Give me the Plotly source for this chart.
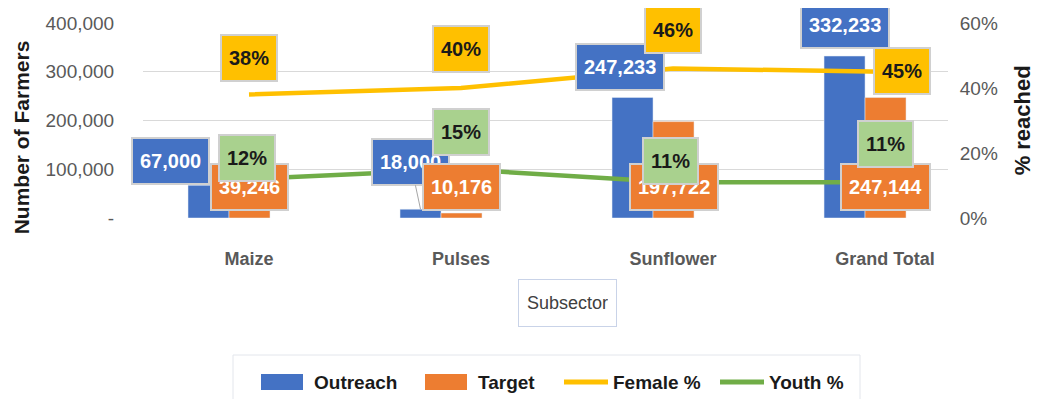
import plotly.graph_objects as go

categories = ["Maize", "Pulses", "Sunflower", "Grand Total"]
outreach = [67000, 18000, 247233, 332233]
target = [39246, 10176, 197722, 247144]
female_pct = [0.38, 0.40, 0.46, 0.45]
youth_pct = [0.12, 0.15, 0.11, 0.11]
left_ticks = [0, 100000, 200000, 300000, 400000]
left_ticktext = ["-", "100,000", "200,000", "300,000", "400,000"]
right_ticks = [0, 0.2, 0.4, 0.6]
right_ticktext = ["0%", "20%", "40%", "60%"]

BLUE = "#4472C4"
ORANGE = "#ED7D31"
YELLOW = "#FFC000"
GREEN = "#70AD47"
LGREEN = "#A9D18E"
FONT = "Liberation Sans, Arial, sans-serif"

xpos = list(range(len(categories)))
BAR_W = 0.1934
OFF_OUT = -0.2877
OFF_TGT = -0.0943

series = [
    ("Outreach", BLUE, "bar"),
    ("Target", ORANGE, "bar"),
    ("Female %", YELLOW, "line"),
    ("Youth %", GREEN, "line"),
]

fig = go.Figure()
fig.add_trace(go.Bar(x=xpos, y=outreach, name=series[0][0], marker_color=BLUE,
                     width=BAR_W, offset=OFF_OUT, yaxis="y", showlegend=False))
fig.add_trace(go.Bar(x=xpos, y=target, name=series[1][0], marker_color=ORANGE,
                     width=BAR_W, offset=OFF_TGT, yaxis="y", showlegend=False))
fig.add_trace(go.Scatter(x=xpos, y=female_pct, name=series[2][0], mode="lines",
                         line=dict(color=YELLOW, width=4.5), yaxis="y2", showlegend=False))
fig.add_trace(go.Scatter(x=xpos, y=youth_pct, name=series[3][0], mode="lines",
                         line=dict(color=GREEN, width=4.5), yaxis="y2", showlegend=False))

annotations = []
shapes = []


def label(x, y, yref, text, bg, fc, xs, ys, arrow=False):
    a = dict(x=x, y=y, xref="x", yref=yref, text="<b>%s</b>" % text,
             bgcolor=bg, bordercolor="#D0D0D0", borderwidth=2, borderpad=7,
             height=30, font=dict(family=FONT, size=20, color=fc))
    if arrow:
        a.update(showarrow=True, ax=xs, ay=-ys, arrowhead=0, arrowwidth=1,
                 arrowcolor="#A6A6A6", standoff=0)
    else:
        a.update(showarrow=False, xshift=xs, yshift=ys)
    annotations.append(a)


bar_c_out = OFF_OUT + BAR_W / 2
bar_c_tgt = OFF_TGT + BAR_W / 2
out_shift = [(-38, 24), (-10, 47), (-13, 30), (0, 31)]
for i, v in enumerate(outreach):
    label(i + bar_c_out, v, "y", f"{v:,}", BLUE, "white",
          out_shift[i][0], out_shift[i][1], arrow=(i == 1))
for i, v in enumerate(target):
    label(i + bar_c_tgt, 0, "y", f"{v:,}", ORANGE, "white", 0, 31)
fem_shift = [(0, 37), (0, 39), (0, 39), (17, 1)]
for i, v in enumerate(female_pct):
    label(i, v, "y2", f"{round(v*100)}%", YELLOW, "#1a1a1a", *fem_shift[i])
youth_shift = [(-2, 21), (0, 37), (-3, 21), (0, 38)]
for i, v in enumerate(youth_pct):
    label(i, v, "y2", f"{round(v*100)}%", LGREEN, "#1a1a1a", *youth_shift[i])

# axis titles
annotations.append(dict(x=-0.1515, y=0.414, xref="paper", yref="paper",
                        xanchor="center", yanchor="middle",
                        text="<b>Number of Farmers</b>", textangle=-90, showarrow=False,
                        font=dict(family=FONT, size=21, color="#1a1a1a")))
annotations.append(dict(x=1.093, y=0.5, xref="paper", yref="paper",
                        xanchor="center", yanchor="middle",
                        text="<b>% reached</b>", textangle=-90, showarrow=False,
                        font=dict(family=FONT, size=22, color="#1a1a1a")))
annotations.append(dict(x=0.527, y=-0.437, xref="paper", yref="paper",
                        xanchor="center", yanchor="middle",
                        text="Subsector", showarrow=False, bgcolor="white",
                        bordercolor="#C9D3E8", borderwidth=1, borderpad=8,
                        height=30,
                        font=dict(family=FONT, size=18, color="#404040")))

# ---- legend (drawn in paper coordinates, below the plot) ----
PLOT_X0, PLOT_W = 143.0, 805.0   # plot area in window pixels
PLOT_Y0, PLOT_H = 218.0, 195.0


def px(sx):
    return (sx - PLOT_X0) / PLOT_W


def py(sy):
    return (PLOT_Y0 - sy) / PLOT_H


shapes.append(dict(type="rect", xref="paper", yref="paper",
                   x0=px(233), x1=px(860), y0=py(420), y1=py(355),
                   line=dict(color="#E3E6EC", width=1), fillcolor="rgba(0,0,0,0)"))
legend_icon_x = [261, 425, 564, 720]
legend_text_x = [312, 476, 611, 767]
LEG_Y = 382
for (name, color, kind), ix, tx in zip(series, legend_icon_x, legend_text_x):
    if kind == "bar":
        shapes.append(dict(type="rect", xref="paper", yref="paper",
                           x0=px(ix), x1=px(ix + 42), y0=py(LEG_Y + 8), y1=py(LEG_Y - 8),
                           line=dict(width=0), fillcolor=color))
    else:
        shapes.append(dict(type="line", xref="paper", yref="paper",
                           x0=px(ix), x1=px(ix + 44), y0=py(LEG_Y), y1=py(LEG_Y),
                           line=dict(color=color, width=5)))
    annotations.append(dict(x=px(tx), y=py(LEG_Y), xref="paper", yref="paper",
                            xanchor="left", yanchor="middle", showarrow=False,
                            text="<b>%s</b>" % name,
                            font=dict(family=FONT, size=19, color="#1a1a1a")))

# page body has an 8px margin: size figure so it fits the 1046x407 window
fig.update_layout(
    width=1030, height=391,
    margin=dict(l=135, r=90, t=15, b=181, autoexpand=False),
    plot_bgcolor="white", paper_bgcolor="white",
    barmode="overlay",
    showlegend=False,
    xaxis=dict(range=[-0.5, 3.297], tickvals=xpos, ticktext=["<b>%s</b>" % c for c in categories],
               showgrid=False, zeroline=False, showline=False,
               tickfont=dict(family=FONT, size=18, color="#595959"),
               ticks="outside", ticklen=24, tickcolor="rgba(0,0,0,0)"),
    yaxis=dict(range=[0, 400000], tickvals=left_ticks, ticktext=left_ticktext,
               showgrid=True, gridcolor="#D9D9D9", gridwidth=1.3, zeroline=False,
               tickfont=dict(family=FONT, size=19, color="#595959"),
               ticks="outside", ticklen=24, tickcolor="rgba(0,0,0,0)"),
    yaxis2=dict(range=[0, 0.6], tickvals=right_ticks, ticktext=right_ticktext,
                overlaying="y", side="right", showgrid=False, zeroline=False,
                tickfont=dict(family=FONT, size=19, color="#595959"),
                ticks="outside", ticklen=7, tickcolor="rgba(0,0,0,0)"),
    annotations=annotations,
    shapes=shapes,
)

fig.write_html("out.html")
